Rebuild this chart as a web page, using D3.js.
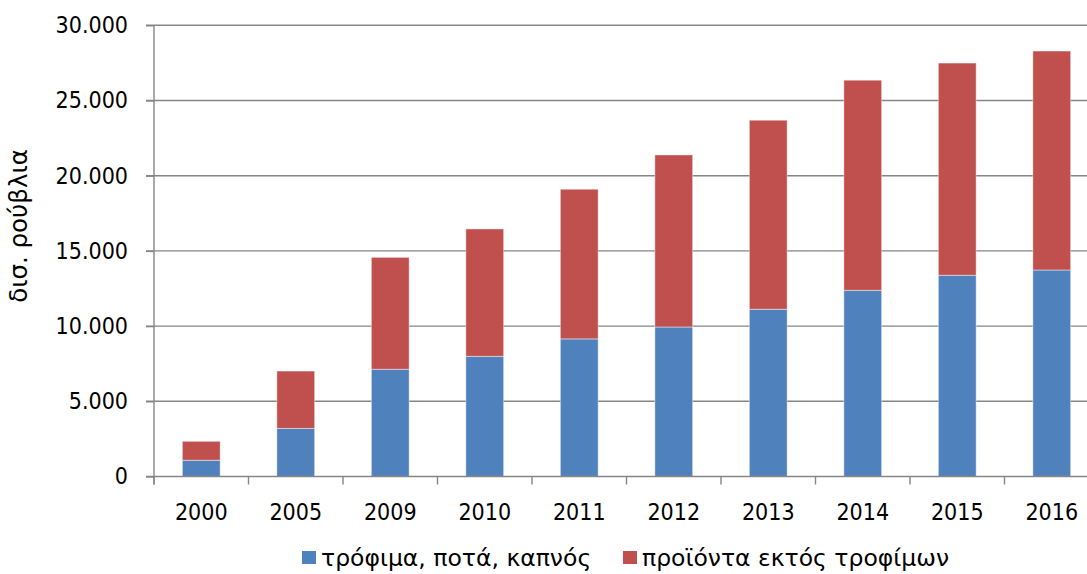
<!DOCTYPE html>
<html>
<head>
<meta charset="utf-8">
<script src="https://cdn.jsdelivr.net/npm/d3@7"></script>
<style>
	body { margin: 0; background: #fff; }
	text { font-family: "DejaVu Sans Condensed", "DejaVu Sans", sans-serif; fill: #000; }
	text.greek { font-family: "DejaVu Sans", sans-serif; }
	.grid line { stroke: #868686; stroke-width: 1.4; }
	.axis path, .axis line { stroke: #868686; stroke-width: 1.4; }
</style>
</head>
<body>
<div id="chart"></div>
<script>

// years on the x axis
let years = ["2000", "2005", "2009", "2010", "2011", "2012", "2013", "2014", "2015", "2016"];

// bln roubles
let foodValues = [1080, 3200, 7130, 7990, 9150, 9940, 11120, 12380, 13380, 13730];
let nonFoodValues = [1260, 3810, 7440, 8470, 9950, 11440, 12570, 13970, 14110, 14560];

let seriesNames = ["τρόφιμα, ποτά, καπνός", "προϊόντα εκτός τροφίμων"];
let seriesColors = ["#4F81BD", "#C0504D"];

let yTicks = [0, 5000, 10000, 15000, 20000, 25000, 30000];
let yTitle = "δισ. ρούβλια";

let tableData = years.map((y, i) => ({year: y, food: foodValues[i], nonfood: nonFoodValues[i]}));

let margin = {top: 25.3, left: 154, bottom: 98, right: 0};
let width = 1087, height = 574;
let plotW = 945;

let svg = d3.select("#chart").append("svg")
	.attr("width", width)
	.attr("height", height);

let x = d3.scaleBand()
	.domain(years)
	.range([margin.left, margin.left + plotW])
	.paddingInner(0.6)
	.paddingOuter(0.3);

let y = d3.scaleLinear()
	.domain([0, 30000])
	.range([476.5, margin.top]);

// gridlines
svg.append("g")
	.attr("class", "grid")
	.selectAll("line")
	.data(yTicks.slice(1))
	.enter()
	.append("line")
	.attr("x1", margin.left - 8)
	.attr("x2", width)
	.attr("y1", d => y(d))
	.attr("y2", d => y(d));

// stacked bars
let stack = d3.stack().keys(["food", "nonfood"]);
let layers = stack(tableData);

svg.selectAll("g.layer")
	.data(layers)
	.enter()
	.append("g")
	.attr("class", "layer")
	.attr("fill", (d, i) => seriesColors[i])
	.selectAll("rect")
	.data(d => d)
	.enter()
	.append("rect")
	.attr("x", d => x(d.data.year))
	.attr("width", x.bandwidth())
	.attr("y", d => y(d[1]))
	.attr("height", d => y(d[0]) - y(d[1]))
	.attr("stroke", "#fff")
	.attr("stroke-opacity", 0.45)
	.attr("stroke-width", 1);

// y axis
let yAxis = d3.axisLeft(y)
	.tickValues(yTicks)
	.tickSize(8)
	.tickPadding(18)
	.tickFormat(d => d3.format(",")(d).replace(/,/g, "."));

svg.append("g")
	.attr("class", "axis y-axis")
	.attr("transform", "translate(" + margin.left + ",0)")
	.call(yAxis)
	.call(g => g.select(".domain").attr("d", "M0," + y(30000) + "V" + (y(0) + 8)))
	.selectAll("text")
	.attr("font-size", 23);

// x axis: ticks on category boundaries
let xAxisG = svg.append("g")
	.attr("class", "axis x-axis")
	.attr("transform", "translate(0," + y(0) + ")");

xAxisG.append("line")
	.attr("x1", margin.left - 8)
	.attr("x2", width)
	.attr("y1", 0)
	.attr("y2", 0);

xAxisG.selectAll("line.tick")
	.data(years)
	.enter()
	.append("line")
	.attr("class", "tick")
	.attr("x1", d => x(d) - x.step() * 0.3)
	.attr("x2", d => x(d) - x.step() * 0.3)
	.attr("y1", 0)
	.attr("y2", 8);

xAxisG.selectAll("text")
	.data(years)
	.enter()
	.append("text")
	.attr("x", d => x(d) + x.bandwidth() / 2)
	.attr("y", 43)
	.attr("text-anchor", "middle")
	.attr("font-size", 23)
	.text(d => d);

// y title
svg.append("text")
	.attr("class", "greek")
	.attr("transform", "translate(27,226) rotate(-90)")
	.attr("text-anchor", "middle")
	.attr("font-size", 24.5)
	.text(yTitle);

// legend
let legendX = [302, 623];
let legend = svg.selectAll("g.legend")
	.data(seriesNames)
	.enter()
	.append("g")
	.attr("class", "legend")
	.attr("transform", (d, i) => "translate(" + legendX[i] + ",551)");

legend.append("rect")
	.attr("x", 0)
	.attr("y", 0)
	.attr("width", 14)
	.attr("height", 13)
	.attr("fill", (d, i) => seriesColors[i]);

legend.append("text")
	.attr("class", "greek")
	.attr("x", 19)
	.attr("y", 15)
	.attr("font-size", 23.5)
	.text(d => d);

</script>
</body>
</html>
